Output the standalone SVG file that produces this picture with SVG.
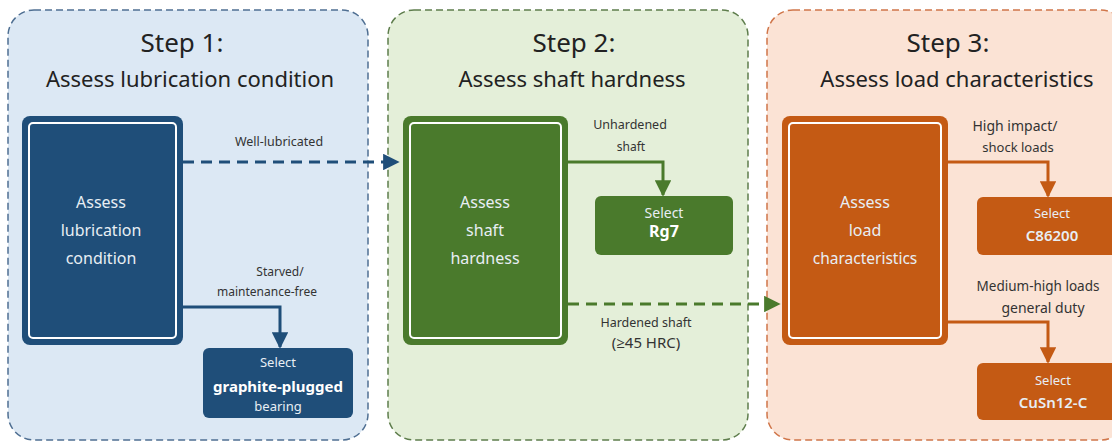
<svg xmlns="http://www.w3.org/2000/svg" width="1112" height="443" viewBox="0 0 1112 443">
<defs>
<style>
text{font-family:"Noto Sans","Open Sans","DejaVu Sans",sans-serif;text-anchor:middle}
.t1{font-size:26px;fill:#222}
.t2{font-size:22px;fill:#222}
.nt{font-size:16px;fill:#e8eef4}
.lb{font-size:12.5px;fill:#333}
.sel{font-size:13px;fill:#e8eef4}
.big{font-size:15px;font-weight:bold;fill:#ffffff}
.inner{fill:none;stroke:#ffffff;stroke-width:2}
</style>
<marker id="ab" viewBox="0 0 10 10" refX="9" refY="5" markerWidth="5.5" markerHeight="5.5" markerUnits="strokeWidth" orient="auto"><path d="M0,0 L10,5 L0,10 z" fill="#1f4e79"/></marker>
<marker id="ag" viewBox="0 0 10 10" refX="9" refY="5" markerWidth="5.5" markerHeight="5.5" markerUnits="strokeWidth" orient="auto"><path d="M0,0 L10,5 L0,10 z" fill="#4a7a2c"/></marker>
<marker id="ao" viewBox="0 0 10 10" refX="9" refY="5" markerWidth="5.5" markerHeight="5.5" markerUnits="strokeWidth" orient="auto"><path d="M0,0 L10,5 L0,10 z" fill="#c45a14"/></marker>
</defs>
<rect width="1112" height="443" fill="#ffffff"/>

<g id="panel1">
<rect x="8" y="10" width="360" height="430" rx="26" fill="#dce8f4" stroke="#4f6f92" stroke-width="1.5" stroke-dasharray="7 4"/>
<text class="t1" x="182" y="52">Step 1:</text>
<text class="t2" x="190" y="87">Assess lubrication condition</text>
</g>
<g id="panel2">
<rect x="388" y="10" width="360" height="430" rx="26" fill="#e4efd9" stroke="#5e7d4c" stroke-width="1.5" stroke-dasharray="7 4"/>
<text class="t1" x="574" y="52">Step 2:</text>
<text class="t2" x="572" y="87">Assess shaft hardness</text>
</g>
<g id="panel3">
<rect x="767" y="10" width="360" height="430" rx="26" fill="#fbe3d5" stroke="#d0764a" stroke-width="1.5" stroke-dasharray="7 4"/>
<text class="t1" x="948" y="52">Step 3:</text>
<text class="t2" x="957" y="87">Assess load characteristics</text>
</g>

<g id="node-lub">
<rect x="22" y="116" width="161" height="229" rx="8" fill="#1f4e79"/>
<rect x="29" y="123" width="147" height="215" rx="4" class="inner"/>
<text class="nt" x="101" y="208">Assess</text>
<text class="nt" x="101" y="236">lubrication</text>
<text class="nt" x="101" y="264">condition</text>
</g>
<g id="node-graphite">
<rect x="203" y="348" width="150" height="70" rx="6" fill="#1f4e79"/>
<text class="sel" x="278" y="367">Select</text>
<text class="big" x="278" y="392">graphite-plugged</text>
<text class="sel" x="278" y="411">bearing</text>
</g>

<g id="node-shaft">
<rect x="403" y="116" width="165" height="229" rx="8" fill="#4a7a2c"/>
<rect x="410" y="123" width="151" height="215" rx="4" class="inner"/>
<text class="nt" x="485" y="208">Assess</text>
<text class="nt" x="485" y="236">shaft</text>
<text class="nt" x="485" y="264">hardness</text>
</g>
<g id="node-rg7">
<rect x="595" y="196" width="138" height="59" rx="6" fill="#4a7a2c"/>
<text class="sel" x="664" y="218" style="font-size:14px">Select</text>
<text class="big" x="664" y="237" style="font-size:16px">Rg7</text>
</g>

<g id="node-load">
<rect x="782" y="116" width="166" height="229" rx="8" fill="#c45a14"/>
<rect x="789" y="123" width="152" height="215" rx="4" class="inner"/>
<text class="nt" x="865" y="208">Assess</text>
<text class="nt" x="865" y="236">load</text>
<text class="nt" x="865" y="264" style="font-size:15.5px">characteristics</text>
</g>
<g id="node-c86200">
<rect x="977" y="197" width="142" height="58" rx="6" fill="#c45a14"/>
<text class="sel" x="1052" y="218">Select</text>
<text class="sel" x="1052" y="241" style="font-size:15px;font-weight:600">C86200</text>
</g>
<g id="node-cusn">
<rect x="977" y="363" width="142" height="57" rx="6" fill="#c45a14"/>
<text class="sel" x="1053" y="385">Select</text>
<text class="sel" x="1053" y="408" style="font-size:15px;font-weight:600">CuSn12-C</text>
</g>

<g id="connectors" fill="none" stroke-width="3">
<path d="M183,162 H398" stroke="#1f4e79" stroke-dasharray="11 7" marker-end="url(#ab)"/>
<path d="M183,307 H280 V347" stroke="#1f4e79" marker-end="url(#ab)"/>
<path d="M568,162 H663 V195" stroke="#4a7a2c" marker-end="url(#ag)"/>
<path d="M568,304 H779" stroke="#4a7a2c" stroke-dasharray="11 7" marker-end="url(#ag)"/>
<path d="M948,162 H1048 V196" stroke="#c45a14" marker-end="url(#ao)"/>
<path d="M948,322 H1048 V362" stroke="#c45a14" marker-end="url(#ao)"/>
</g>

<g id="labels">
<text class="lb" x="279" y="146">Well-lubricated</text>
<text class="lb" x="280" y="276" style="font-size:12px">Starved/</text>
<text class="lb" x="267" y="296" style="font-size:12px">maintenance-free</text>
<text class="lb" x="630" y="129">Unhardened</text>
<text class="lb" x="631" y="151" style="font-size:12px">shaft</text>
<text class="lb" x="646" y="327">Hardened shaft</text>
<text class="lb" x="646" y="348" style="font-size:15px">(≥45 HRC)</text>
<text class="lb" x="1015" y="131" style="font-size:14px">High impact/</text>
<text class="lb" x="1018" y="152" style="font-size:13px">shock loads</text>
<text class="lb" x="1038" y="291" style="font-size:13.5px">Medium-high loads</text>
<text class="lb" x="1043" y="313" style="font-size:14px">general duty</text>
</g>
</svg>
